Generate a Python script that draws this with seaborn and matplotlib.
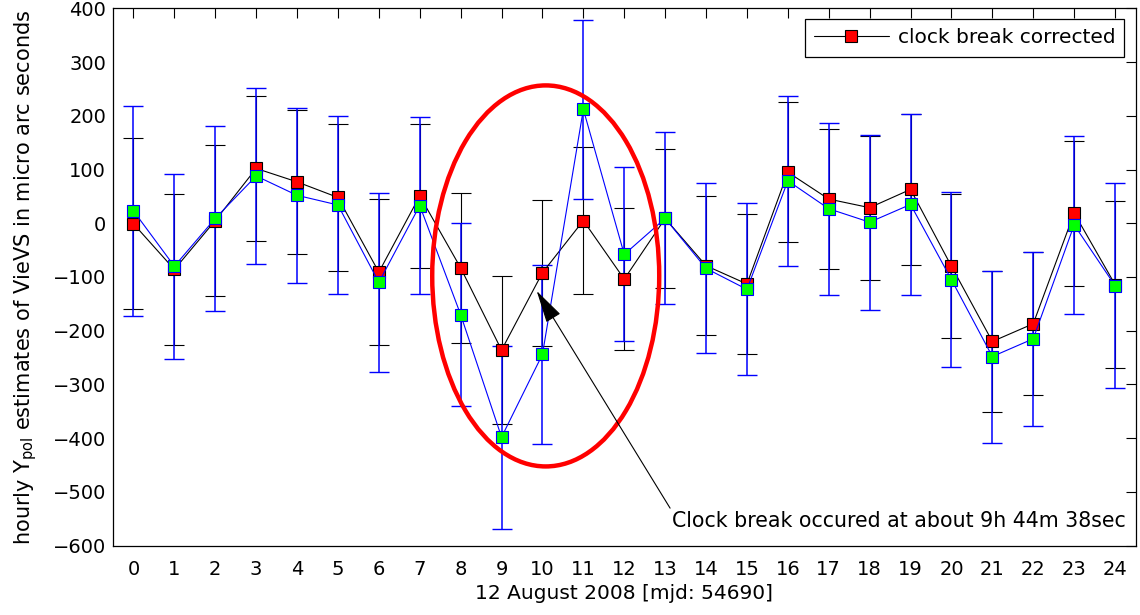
import numpy as np
import pandas as pd
import matplotlib
matplotlib.use("Agg")
import matplotlib.pyplot as plt
from matplotlib.patches import Ellipse
from matplotlib.lines import Line2D
import seaborn as sns

# ---- data ----
hours = list(range(25))
corrected = [-1, -86, 5, 102, 77, 48, -91, 51, -83, -236, -92, 5, -104, 9,
             -79, -113, 95, 45, 29, 63, -80, -220, -187, 19, -114]
corrected_err = [159, 140, 140, 135, 134, 136, 136, 134, 140, 138, 136, 136, 132, 130,
                 129, 131, 130, 131, 134, 140, 134, 131, 133, 135, 155]
original = [23, -80, 9, 88, 52, 34, -110, 33, -170, -398, -244, 212, -58, 9,
            -84, -123, 79, 27, 2, 35, -105, -248, -215, -3, -116]
original_err = [195, 172, 172, 164, 163, 166, 166, 164, 170, 170, 166, 166, 162, 160,
                158, 160, 158, 160, 163, 169, 163, 160, 162, 165, 190]

legend_label = "clock break corrected"
xlabel = "12 August 2008 [mjd: 54690]"
ylabel = "hourly Y$_{pol}$ estimates of VieVS in micro arc seconds"
annot_text = "Clock break occured at about 9h 44m 38sec"

sns.set_style("white")
plt.rcParams["font.family"] = ["DejaVu Sans"]
plt.rcParams["mathtext.default"] = "regular"
plt.rcParams["axes.unicode_minus"] = True
plt.rcParams["text.color"] = "black"
plt.rcParams["axes.labelcolor"] = "black"
plt.rcParams["xtick.color"] = "black"
plt.rcParams["ytick.color"] = "black"

df = pd.DataFrame({"hour": hours, "corrected": corrected, "original": original})

fig = plt.figure(figsize=(11.4, 6.15), dpi=100)
ax = fig.add_axes([113 / 1140, 1 - 545.7 / 615, (1135.5 - 113) / 1140, (545.7 - 8.3) / 615])

# error bars
ax.errorbar(hours, corrected, yerr=corrected_err, fmt="none", ecolor="black",
            elinewidth=0.8, capsize=7, capthick=0.8, zorder=2)
ax.errorbar(hours, original, yerr=original_err, fmt="none", ecolor="#0000FF",
            elinewidth=1.1, capsize=7, capthick=1.0, zorder=2.5)

# lines with markers
sns.lineplot(data=df, x="hour", y="corrected", ax=ax, color="black", lw=0.8,
             marker="s", markersize=8.5, markerfacecolor="#FF0000",
             markeredgecolor="black", markeredgewidth=0.8, zorder=4, legend=False)
sns.lineplot(data=df, x="hour", y="original", ax=ax, color="#0000FF", lw=0.8,
             marker="s", markersize=8.5, markerfacecolor="#00FF00",
             markeredgecolor="#0000FF", markeredgewidth=0.8, zorder=5, legend=False)

# red ellipse
ax.add_patch(Ellipse((10.08, -98), 5.55, 709, fill=False, edgecolor="#FF0000",
                     lw=3.2, zorder=6))

# annotation
ax.annotate(annot_text, xy=(9.86, -126), xytext=(13.17, -566), ha="left",
            va="baseline", fontsize=14.8, zorder=7,
            arrowprops=dict(arrowstyle="-|>,head_length=1.4,head_width=0.35",
                            color="black", lw=0.8, shrinkA=0, shrinkB=0,
                            relpos=(0, 1)))

ax.set_xlim(-0.5, 24.5)
ax.set_ylim(-600, 400)
ax.set_xticks(hours)
ax.set_yticks(np.arange(-600, 401, 100))
ax.tick_params(direction="in", length=7, width=0.8, top=True, right=True,
               labelsize=14, colors="black")
ax.tick_params(axis="x", pad=10)
ax.tick_params(axis="y", pad=5)
for s in ax.spines.values():
    s.set_color("black")
    s.set_linewidth(0.9)
ax.set_xlabel(xlabel, fontsize=14.5, labelpad=4)
ax.set_ylabel(ylabel, fontsize=15, labelpad=9.5)

handle = Line2D([], [], color="black", lw=0.8, marker="s", markersize=8.5,
                markerfacecolor="#FF0000", markeredgecolor="black", markeredgewidth=0.8)
leg = ax.legend([handle], [legend_label], loc="upper right", fontsize=14.5,
                handlelength=3.7, handletextpad=0.45, borderpad=0.45,
                borderaxespad=0.55, fancybox=False, framealpha=1)
leg.get_frame().set_edgecolor("black")
leg.get_frame().set_linewidth(0.9)

fig.savefig("out.png", dpi=100)
